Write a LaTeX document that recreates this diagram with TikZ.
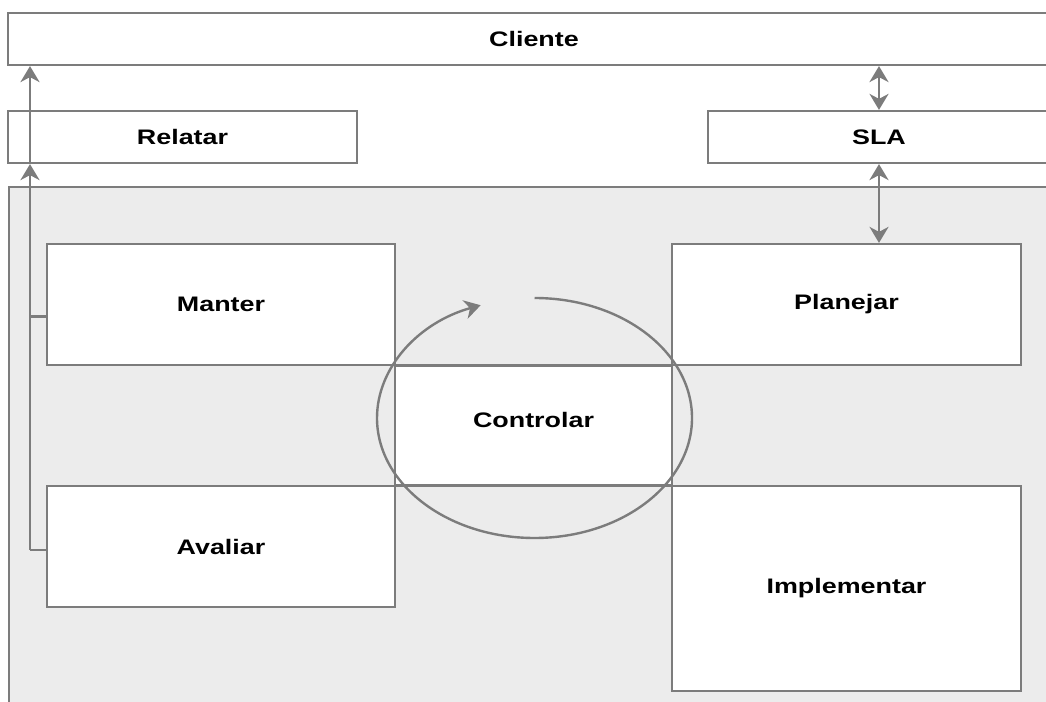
\documentclass[tikz,border=0pt]{standalone}
\usepackage{fontspec}
\setmainfont{Liberation Sans}[FakeStretch=1.28]
\usetikzlibrary{arrows.meta,calc}
\definecolor{linegray}{HTML}{7C7C7C}
\definecolor{bggray}{HTML}{ECECEC}
\tikzset{
  box/.style={draw=linegray, line width=2.2pt, fill=white, inner sep=0pt,
    font=\fontsize{21}{24}\selectfont\bfseries, text=black},
  conn/.style={draw=linegray, line width=2.4pt},
  tip/.tip={Stealth[length=16pt,width=19pt,inset=5pt]},
  arr/.style={conn, -tip},
  dbl/.style={conn, tip-tip}
}
\begin{document}
\begin{tikzpicture}[x=1pt,y=1pt]
\useasboundingbox (0,0) rectangle (1046,701);
\clip (0,0) rectangle (1046,701);
\fill[white] (0,0) rectangle (1046,701);
% gray area
\draw[draw=linegray, line width=2.2pt, fill=bggray] (9,-10) rectangle (1060,514);
% top boxes
\node[box, minimum width=1052pt, minimum height=52pt] (cliente) at (534,662) {Cliente};
\node[box, minimum width=349pt, minimum height=52pt] (relatar) at (182.5,564) {Relatar};
\node[box, minimum width=342pt, minimum height=52pt] (sla) at (879,564) {SLA};
% inner boxes
\node[box, minimum width=348pt, minimum height=121pt] (manter) at (221,396.5) {Manter};
\node[box, minimum width=348pt, minimum height=121pt] (avaliar) at (221,154.5) {Avaliar};
\node[box, minimum width=349pt, minimum height=121pt] (planejar) at (846.5,396.5) {Planejar};
\node[box, minimum width=349pt, minimum height=205pt] (implementar) at (846.5,112.5) {Implementar};
\node[box, minimum width=277pt, minimum height=120pt] (controlar) at (533.5,275.5) {};
\node[font=\fontsize{21}{24}\selectfont\bfseries] (controlartxt) at (533.5,281) {Controlar};
% cycle arrow
\coordinate (cc) at (534.5,283);
\draw[arr] ($(cc)+(0,120)$) arc[start angle=90, end angle=-250, x radius=157.5, y radius=120];
% connectors
\coordinate (up1) at (30,538);
\draw[arr] (up1) -- (up1 |- cliente.south);
\coordinate (tb) at (30,151);
\coordinate (mb) at ($(manter.west)+(0,-12)$);
\draw[arr] (tb) -- (tb |- relatar.south);
\draw[conn] (tb) -- (tb -| avaliar.west);
\draw[conn] (mb -| tb) -- (mb);
\draw[dbl] (sla.north) -- (sla.north |- cliente.south);
\draw[dbl] (sla.south) -- (sla.south |- planejar.north);
\end{tikzpicture}
\end{document}
